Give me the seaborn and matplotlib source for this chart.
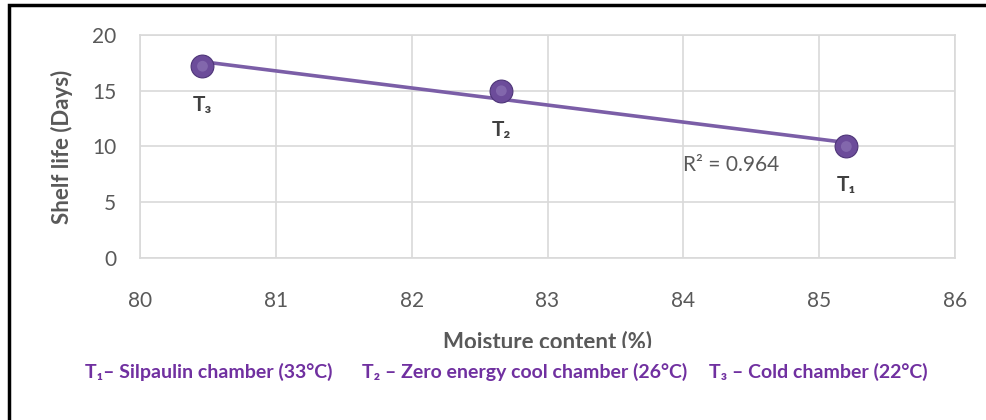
import numpy as np
import pandas as pd
import matplotlib
matplotlib.use("Agg")
import matplotlib.pyplot as plt
import seaborn as sns
from matplotlib.patches import Rectangle
from matplotlib.transforms import Bbox, TransformedBbox

# data
treatments = ["T₁", "T₂", "T₃"]
moisture = [85.2, 82.66, 80.46]
shelf_life = [10.0, 15.0, 17.2]
r2_text = "R² = 0.964"
x_ticks = [80, 81, 82, 83, 84, 85, 86]
y_ticks = [0, 5, 10, 15, 20]
legend_items = ["T₁– Silpaulin chamber (33°C)",
                "T₂ – Zero energy cool chamber (26°C)",
                "T₃ – Cold chamber (22°C)"]

df = pd.DataFrame({"Treatment": treatments, "Moisture": moisture, "Shelf": shelf_life})

sns.set_style("white")
plt.rcParams["font.family"] = ["Lato", "DejaVu Sans"]

gray = "#595959"
purple = "#7B5EA7"

fig = plt.figure(figsize=(9.86, 4.2), dpi=100)
ax = fig.add_axes([140 / 986, 1 - 258 / 420, (955 - 140) / 986, (258 - 35) / 420])

# trendline (linear fit) and markers
sns.regplot(data=df, x="Moisture", y="Shelf", ax=ax, ci=None, scatter=False,
            line_kws={"color": purple, "lw": 2.6, "zorder": 3})
sns.scatterplot(data=df, x="Moisture", y="Shelf", ax=ax, s=270, color="#6C4C9A",
                edgecolor="#4E3578", linewidth=0.8, zorder=4, legend=False)
sns.scatterplot(data=df, x="Moisture", y="Shelf", ax=ax, s=60, color="#9F89C4",
                edgecolor="none", zorder=5, legend=False, alpha=0.45)

for _, row in df.iterrows():
    ax.annotate(row["Treatment"], (row["Moisture"], row["Shelf"]),
                xytext=(0, -28), textcoords="offset points", ha="center", va="center",
                fontsize=15, fontweight="bold", color="#404040")

ax.text(84.0, 8.3, r2_text, fontsize=15, color=gray, ha="left", va="center")

ax.set_xlim(80, 86)
ax.set_ylim(0, 20)
ax.set_xticks(x_ticks)
ax.set_yticks(y_ticks)
ax.grid(True, color="#D9D9D9", lw=1.2)
ax.set_axisbelow(True)
for sp in ax.spines.values():
    sp.set_color("#D9D9D9")
    sp.set_linewidth(1.2)
ax.tick_params(axis="both", length=0, labelsize=15, colors=gray)
ax.tick_params(axis="x", pad=24)
ax.tick_params(axis="y", pad=17)

ax.set_xlabel("Moisture content (%)", fontsize=16, fontweight="bold", color=gray, labelpad=14)
ax.set_ylabel("Shelf life (Days)", fontsize=16, fontweight="bold", color=gray, labelpad=14)

# the x label is cut off at the bottom in the original
clip = TransformedBbox(Bbox([[0, 1 - 348 / 420], [1, 1]]), fig.transFigure)
ax.xaxis.label.set_clip_box(clip)
ax.xaxis.label.set_clip_on(True)

# legend line below the chart
leg_x = [85 / 986, 362 / 986, 709 / 986]
for xpos, txt in zip(leg_x, legend_items):
    fig.text(xpos, 1 - 372 / 420, txt, fontsize=14, fontweight="bold",
             color="#7030A0", ha="left", va="center")

# black outer frame
fig.patches.append(Rectangle((9 / 986, -0.2), 1.2, 1.2 - 5 / 420, transform=fig.transFigure,
                             fill=False, edgecolor="black", lw=2.5, zorder=10))

fig.savefig("out.png", dpi=100)
